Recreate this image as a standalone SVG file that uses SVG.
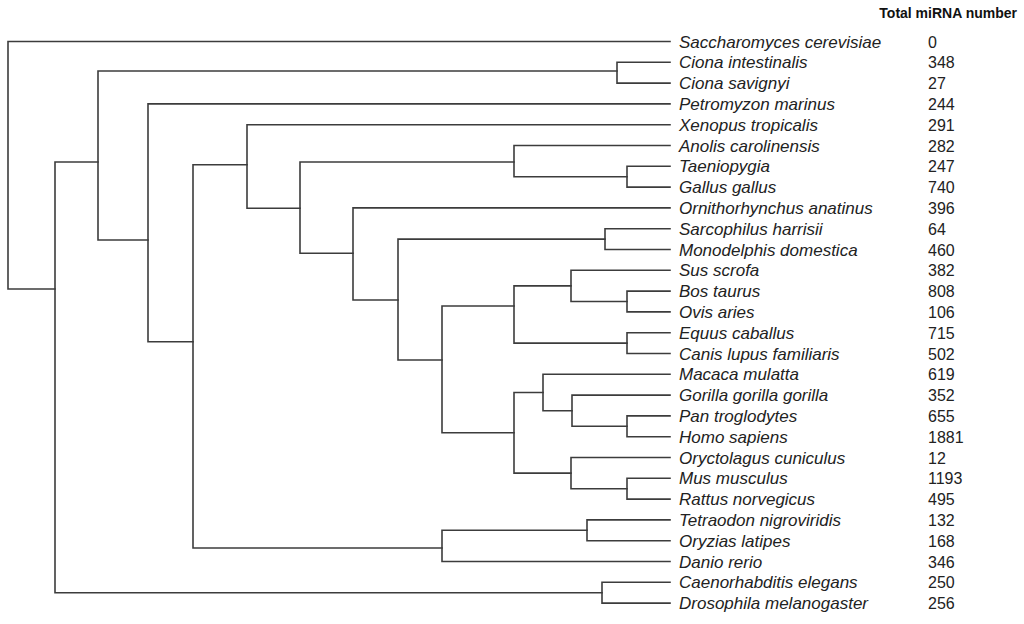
<svg xmlns="http://www.w3.org/2000/svg" width="1024" height="624" viewBox="0 0 1024 624">
<style>
.e{fill:none;stroke:#3c3c3c;stroke-width:1.6;stroke-linecap:square}
.lb{font-family:"Liberation Sans",Arial,sans-serif;font-style:italic;font-size:17px;fill:#222}
.nm{font-family:"Liberation Sans",Arial,sans-serif;font-size:16px;fill:#222}
.hd{font-family:"Liberation Sans",Arial,sans-serif;font-size:14px;font-weight:bold;fill:#111}
</style>
<rect width="1024" height="624" fill="#fff"/>
<text class="hd" x="1017" y="18" text-anchor="end">Total miRNA number</text>
<g id="connectors" class="e">
<path d="M8,41.5V289 M8,41.5H670 M8,289H55"/>
<path d="M55,162V592.7 M55,162H98 M55,592.7H602"/>
<path d="M602,582.3V603.1 M602,582.3H670 M602,603.1H670"/>
<path d="M98,71V240 M98,71H617 M98,240H148"/>
<path d="M617,62.3V83.1 M617,62.3H670 M617,83.1H670"/>
<path d="M148,103.9V341.7 M148,103.9H670 M148,341.7H193"/>
<path d="M193,164.7V548 M193,164.7H247 M193,548H442"/>
<path d="M247,124.7V208.3 M247,124.7H670 M247,208.3H300"/>
<path d="M300,162V253.3 M300,162H514 M300,253.3H353"/>
<path d="M514,145.5V176.7 M514,145.5H670 M514,176.7H627"/>
<path d="M627,166.3V187.1 M627,166.3H670 M627,187.1H670"/>
<path d="M353,207.9V300 M353,207.9H670 M353,300H398"/>
<path d="M398,239.1V360 M398,239.1H605 M398,360H442"/>
<path d="M605,228.7V249.5 M605,228.7H670 M605,249.5H670"/>
<path d="M442,306V432.8 M442,306H514 M442,432.8H514"/>
<path d="M514,285.9V343.1 M514,285.9H571 M514,343.1H627"/>
<path d="M571,270.3V301.5 M571,270.3H670 M571,301.5H627"/>
<path d="M627,291.1V311.9 M627,291.1H670 M627,311.9H670"/>
<path d="M627,332.7V353.5 M627,332.7H670 M627,353.5H670"/>
<path d="M514,392.5V473.1 M514,392.5H543 M514,473.1H571"/>
<path d="M543,374.3V410.7 M543,374.3H670 M543,410.7H572"/>
<path d="M572,395.1V426.3 M572,395.1H670 M572,426.3H627"/>
<path d="M627,415.9V436.7 M627,415.9H670 M627,436.7H670"/>
<path d="M571,457.5V488.7 M571,457.5H670 M571,488.7H627"/>
<path d="M627,478.3V499.1 M627,478.3H670 M627,499.1H670"/>
<path d="M442,530.3V561.5 M442,530.3H587 M442,561.5H670"/>
<path d="M587,519.9V540.7 M587,519.9H670 M587,540.7H670"/>
</g>
<g id="leaf-saccharomyces"><text class="lb" x="679" y="47.5">Saccharomyces cerevisiae</text><text class="nm" x="928" y="47.5">0</text></g>
<g id="leaf-ciona-intestinalis"><text class="lb" x="679" y="68.3">Ciona intestinalis</text><text class="nm" x="928" y="68.3">348</text></g>
<g id="leaf-ciona-savignyi"><text class="lb" x="679" y="89.1">Ciona savignyi</text><text class="nm" x="928" y="89.1">27</text></g>
<g id="leaf-petromyzon"><text class="lb" x="679" y="109.9">Petromyzon marinus</text><text class="nm" x="928" y="109.9">244</text></g>
<g id="leaf-xenopus"><text class="lb" x="679" y="130.7">Xenopus tropicalis</text><text class="nm" x="928" y="130.7">291</text></g>
<g id="leaf-anolis"><text class="lb" x="679" y="151.5">Anolis carolinensis</text><text class="nm" x="928" y="151.5">282</text></g>
<g id="leaf-taeniopygia"><text class="lb" x="679" y="172.3">Taeniopygia</text><text class="nm" x="928" y="172.3">247</text></g>
<g id="leaf-gallus"><text class="lb" x="679" y="193.1">Gallus gallus</text><text class="nm" x="928" y="193.1">740</text></g>
<g id="leaf-ornithorhynchus"><text class="lb" x="679" y="213.9">Ornithorhynchus anatinus</text><text class="nm" x="928" y="213.9">396</text></g>
<g id="leaf-sarcophilus"><text class="lb" x="679" y="234.7">Sarcophilus harrisii</text><text class="nm" x="928" y="234.7">64</text></g>
<g id="leaf-monodelphis"><text class="lb" x="679" y="255.5">Monodelphis domestica</text><text class="nm" x="928" y="255.5">460</text></g>
<g id="leaf-sus"><text class="lb" x="679" y="276.3">Sus scrofa</text><text class="nm" x="928" y="276.3">382</text></g>
<g id="leaf-bos"><text class="lb" x="679" y="297.1">Bos taurus</text><text class="nm" x="928" y="297.1">808</text></g>
<g id="leaf-ovis"><text class="lb" x="679" y="317.9">Ovis aries</text><text class="nm" x="928" y="317.9">106</text></g>
<g id="leaf-equus"><text class="lb" x="679" y="338.7">Equus caballus</text><text class="nm" x="928" y="338.7">715</text></g>
<g id="leaf-canis"><text class="lb" x="679" y="359.5">Canis lupus familiaris</text><text class="nm" x="928" y="359.5">502</text></g>
<g id="leaf-macaca"><text class="lb" x="679" y="380.3">Macaca mulatta</text><text class="nm" x="928" y="380.3">619</text></g>
<g id="leaf-gorilla"><text class="lb" x="679" y="401.1">Gorilla gorilla gorilla</text><text class="nm" x="928" y="401.1">352</text></g>
<g id="leaf-pan"><text class="lb" x="679" y="421.9">Pan troglodytes</text><text class="nm" x="928" y="421.9">655</text></g>
<g id="leaf-homo"><text class="lb" x="679" y="442.7">Homo sapiens</text><text class="nm" x="928" y="442.7">1881</text></g>
<g id="leaf-oryctolagus"><text class="lb" x="679" y="463.5">Oryctolagus cuniculus</text><text class="nm" x="928" y="463.5">12</text></g>
<g id="leaf-mus"><text class="lb" x="679" y="484.3">Mus musculus</text><text class="nm" x="928" y="484.3">1193</text></g>
<g id="leaf-rattus"><text class="lb" x="679" y="505.1">Rattus norvegicus</text><text class="nm" x="928" y="505.1">495</text></g>
<g id="leaf-tetraodon"><text class="lb" x="679" y="525.9">Tetraodon nigroviridis</text><text class="nm" x="928" y="525.9">132</text></g>
<g id="leaf-oryzias"><text class="lb" x="679" y="546.7">Oryzias latipes</text><text class="nm" x="928" y="546.7">168</text></g>
<g id="leaf-danio"><text class="lb" x="679" y="567.5">Danio rerio</text><text class="nm" x="928" y="567.5">346</text></g>
<g id="leaf-caenorhabditis"><text class="lb" x="679" y="588.3">Caenorhabditis elegans</text><text class="nm" x="928" y="588.3">250</text></g>
<g id="leaf-drosophila"><text class="lb" x="679" y="609.1">Drosophila melanogaster</text><text class="nm" x="928" y="609.1">256</text></g>
</svg>
